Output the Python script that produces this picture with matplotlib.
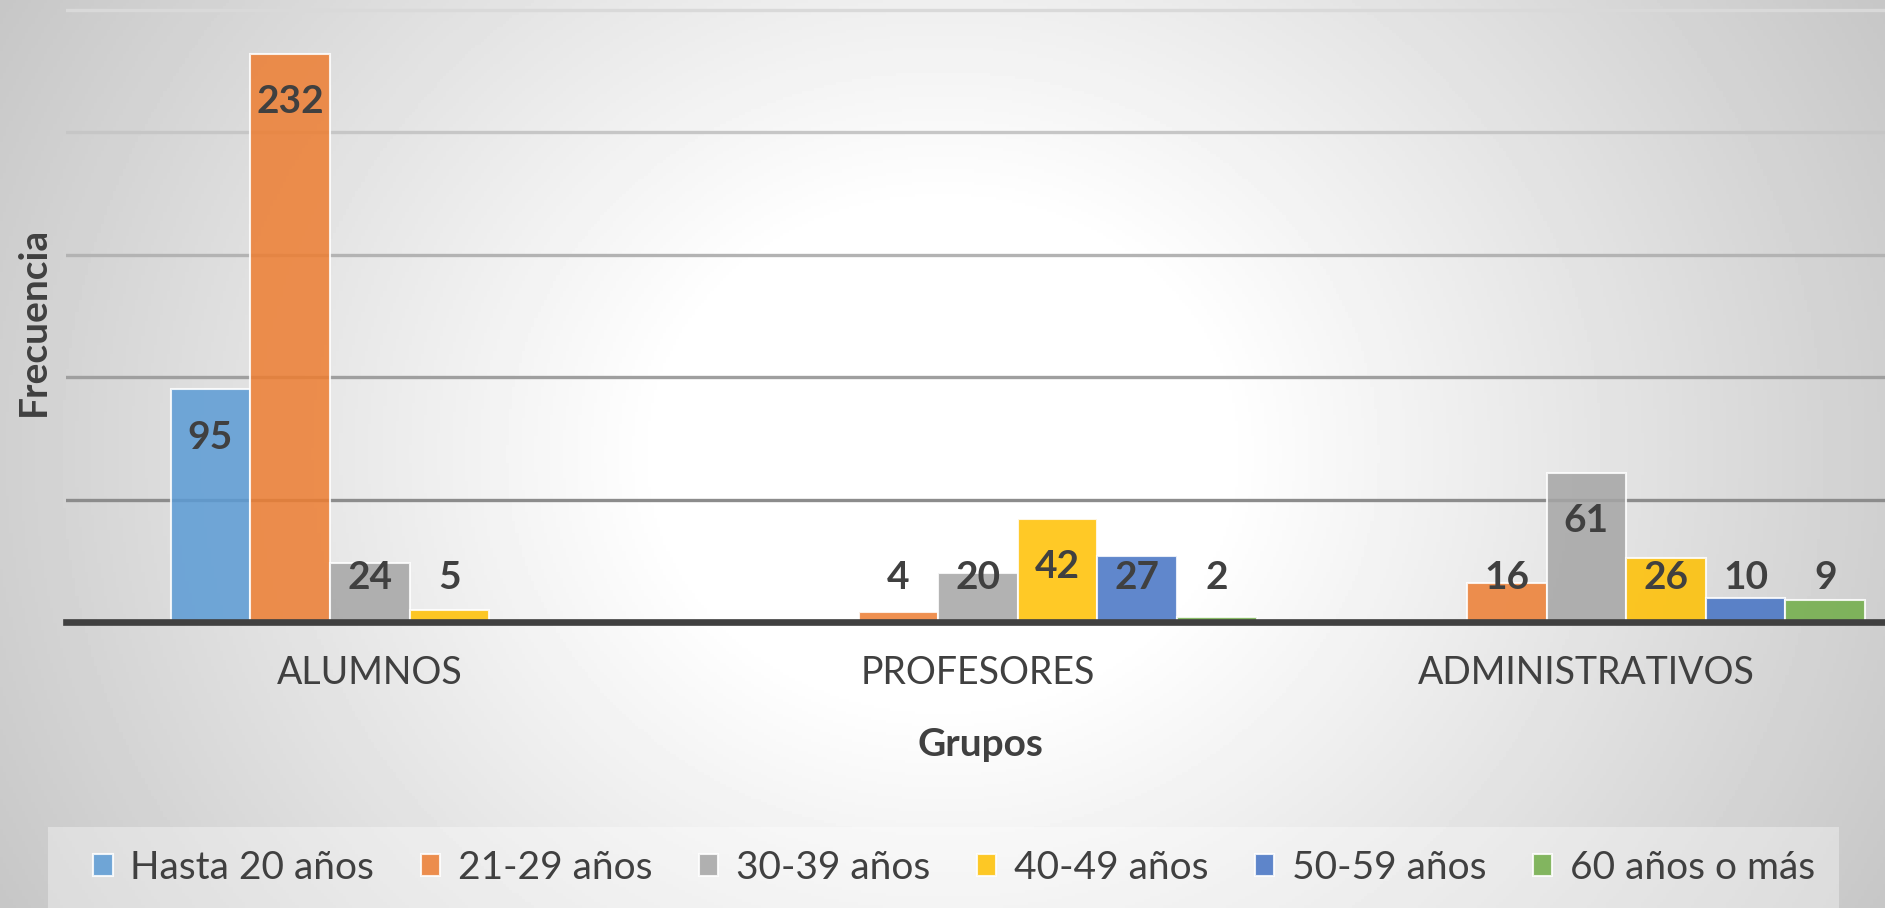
import numpy as np
import matplotlib.pyplot as plt
from matplotlib.patches import Rectangle

# datos del grafico
grupos = ['ALUMNOS', 'PROFESORES', 'ADMINISTRATIVOS']
edades = ['Hasta 20 años', '21-29 años', '30-39 años', '40-49 años', '50-59 años', '60 años o más']
hasta_20 = [95, 0, 0]
de_21_29 = [232, 4, 16]
de_30_39 = [24, 20, 61]
de_40_49 = [5, 42, 26]
de_50_59 = [0, 27, 10]
de_60_mas = [0, 2, 9]
series = [hasta_20, de_21_29, de_30_39, de_40_49, de_50_59, de_60_mas]
colores = ['#5B9BD5', '#ED7D31', '#A5A5A5', '#FFC000', '#4472C4', '#70AD47']

plt.rcParams['font.family'] = ['Lato', 'DejaVu Sans']
gris = '#404040'

W, H = 1885, 908
fig = plt.figure(figsize=(W / 100, H / 100), dpi=100)

# fondo con degradado radial
bg = fig.add_axes([0, 0, 1, 1], zorder=-10)
yy, xx = np.mgrid[0:1:300j, 0:1:600j]
u = (xx - 0.5) / 0.5
v = (yy - 0.5) / 0.5
R = np.sqrt(u**2 + 0.3 * v**2)
c = 1 - 0.185 * np.clip((R - 0.3) / 0.7, 0, 1.2)
bg.imshow(c, cmap='gray', vmin=0, vmax=1, extent=[0, 1, 0, 1], aspect='auto', origin='lower')
bg.axis('off')

# caja de la leyenda
fig.patches.append(Rectangle((48 / W, 0), (1839 - 48) / W, 81 / H, transform=fig.transFigure,
                             facecolor='white', alpha=0.35, edgecolor='none', zorder=-5))

ax = fig.add_axes([65.6 / W, 286 / H, 1 - 65.6 / W, 622 / H])
ax.patch.set_alpha(0)

x = np.arange(len(grupos))
w = 0.1309
for i, (vals, col, lab) in enumerate(zip(series, colores, edades)):
    pos = x + (i - 2) * w
    bars = ax.bar(pos, vals, w, color=col, alpha=0.85, edgecolor='white', linewidth=1.5,
                  label=lab, zorder=2)
    for b, val in zip(bars, vals):
        if val:
            ax.text(b.get_x() + b.get_width() / 2, max(val - 19.5, 18), str(val),
                    ha='center', va='center', fontsize=28, fontweight='bold', color=gris, zorder=4)

for g in range(50, 251, 50):
    shade = 0.55 + 0.3 * (g - 50) / 200
    ax.axhline(g, color=str(shade), lw=2.4, zorder=1)
ax.axhline(0, color=gris, lw=4.8, zorder=3, clip_on=False)

ax.set_xlim(-0.5, 2.491)
ax.set_ylim(0, 254)
for s in ax.spines.values():
    s.set_visible(False)
ax.set_yticks([])
ax.set_xticks(x)
ax.set_xticklabels(grupos, fontsize=27, color=gris)
ax.tick_params(axis='x', length=0, pad=24)

fig.text(33 / W, 1 - 321 / H, 'Frecuencia', rotation=90, ha='center', va='center',
         fontsize=28, fontweight='bold', color=gris)
fig.text(980 / W, 1 - 745 / H, 'Grupos', ha='center', va='center',
         fontsize=28, fontweight='bold', color=gris)

fig.legend(loc='center', bbox_to_anchor=(954 / W, 40 / H), ncol=6, frameon=False,
           fontsize=28, handlelength=0.5, handleheight=0.5, handletextpad=0.45,
           columnspacing=1.2, labelcolor=gris)

fig.savefig('out.png', dpi=100)
